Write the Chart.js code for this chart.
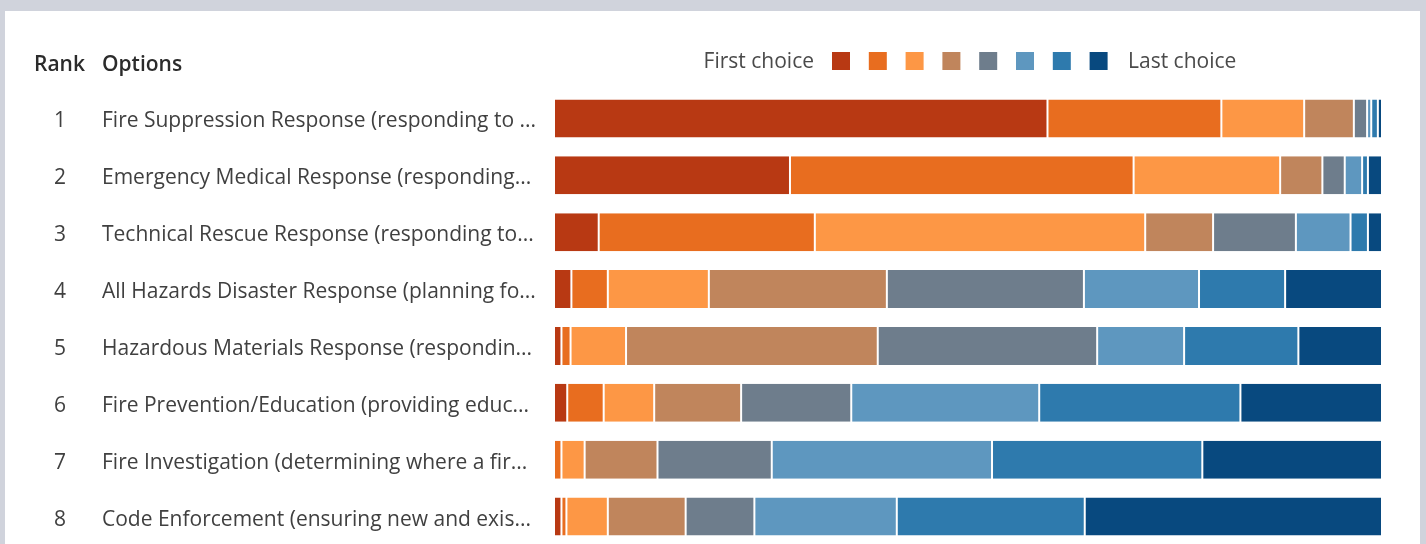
<!DOCTYPE html>
<html>
<head>
<meta charset="utf-8">
<title>Ranking of service options</title>
<script src="https://cdn.jsdelivr.net/npm/chart.js@4/dist/chart.umd.min.js"></script>
<style>
  html, body { margin: 0; padding: 0; width: 1426px; height: 544px; overflow: hidden; background: #d0d3dc; }
  #panel { position: absolute; left: 5px; top: 11px; width: 1415px; height: 540px; background: #ffffff; }
  #wrap { position: absolute; left: 0; top: 0; width: 1426px; height: 550px; }
</style>
</head>
<body>
<div id="panel"></div>
<div id="wrap"><canvas id="chart" width="1426" height="550"></canvas></div>
<script>
// Rank order and option names as listed
const ranks = [1, 2, 3, 4, 5, 6, 7, 8];
const options = [
  'Fire Suppression Response (responding to ...',
  'Emergency Medical Response (responding...',
  'Technical Rescue Response (responding to...',
  'All Hazards Disaster Response (planning fo...',
  'Hazardous Materials Response (respondin...',
  'Fire Prevention/Education (providing educ...',
  'Fire Investigation (determining where a fir...',
  'Code Enforcement (ensuring new and exis...'
];

// Share of respondents (%) placing each option at a given position, first choice to last
const choice1 = [59.6, 28.5,  5.4,  2.1,  0.9,  1.6,  0.0,  0.9];
const choice2 = [21.0, 41.5, 26.1,  4.4,  1.1,  4.4,  0.9,  0.6];
const choice3 = [10.0, 17.7, 39.9, 12.2,  6.7,  6.1,  2.8,  5.0];
const choice4 = [ 6.0,  5.1,  8.2, 21.5, 30.4, 10.5,  8.8,  9.4];
const choice5 = [ 1.6,  2.7, 10.0, 23.8, 26.5, 13.3, 13.8,  8.3];
const choice6 = [ 0.5,  2.1,  6.6, 13.9, 10.5, 22.7, 26.6, 17.2];
const choice7 = [ 0.8,  0.7,  2.1, 10.4, 13.8, 24.3, 25.4, 22.7];
const choice8 = [ 0.5,  1.7,  1.7, 11.7, 10.1, 17.1, 21.7, 35.9];

const legendStart = 'First choice';
const legendEnd = 'Last choice';
const headerRank = 'Rank';
const headerOptions = 'Options';

const choiceColors = ['#b83913', '#e86d1f', '#fd9745', '#c0855c', '#6e7d8c', '#5e97bf', '#2e7aad', '#08497f'];
const series = [choice1, choice2, choice3, choice4, choice5, choice6, choice7, choice8];

const FONT = '"Open Sans", "Noto Sans", sans-serif';

// Rank numbers, option names, column headers and the first/last legend
const sideText = {
  id: 'sideText',
  afterDraw(chart) {
    const { ctx } = chart;
    const y = chart.scales.y;
    ctx.save();
    ctx.textBaseline = 'alphabetic';

    // headers
    ctx.fillStyle = '#2b2b2b';
    ctx.font = '600 21px ' + FONT;
    ctx.textAlign = 'left';
    ctx.fillText(headerRank, 34, 71);
    ctx.fillText(headerOptions, 102, 71);

    // rows
    ctx.font = '21px ' + FONT;
    ctx.fillStyle = '#404040';
    options.forEach((name, i) => {
      const cy = y.getPixelForValue(i);
      ctx.textAlign = 'center';
      ctx.fillText(String(ranks[i]), 60, cy + 9);
      ctx.textAlign = 'left';
      ctx.fillText(name, 102, cy + 9);
    });

    // legend: First choice [] [] ... [] Last choice
    ctx.fillStyle = '#4a4a4a';
    ctx.textAlign = 'right';
    ctx.fillText(legendStart, 814, 68);
    choiceColors.forEach((c, i) => {
      ctx.fillStyle = c;
      ctx.fillRect(832 + i * 36.8, 52, 18, 18);
    });
    ctx.fillStyle = '#4a4a4a';
    ctx.textAlign = 'left';
    ctx.fillText(legendEnd, 1128, 68);
    ctx.restore();
  }
};

new Chart(document.getElementById('chart'), {
  type: 'bar',
  data: {
    labels: options,
    datasets: series.map((values, i) => ({
      label: 'Choice ' + (i + 1),
      data: values,
      backgroundColor: choiceColors[i],
      borderColor: '#ffffff',
      borderWidth: { left: 1, right: 1, top: 0, bottom: 0 },
      borderSkipped: false,
      categoryPercentage: 1,
      barPercentage: 0.67
    }))
  },
  options: {
    indexAxis: 'y',
    responsive: false,
    animation: false,
    layout: { padding: { left: 554, right: 44, top: 90, bottom: 5 } },
    scales: {
      x: { stacked: true, min: 0, max: 100, display: false },
      y: { stacked: true, display: false }
    },
    plugins: {
      legend: { display: false },
      tooltip: { enabled: false }
    }
  },
  plugins: [sideText]
});
</script>
</body>
</html>
